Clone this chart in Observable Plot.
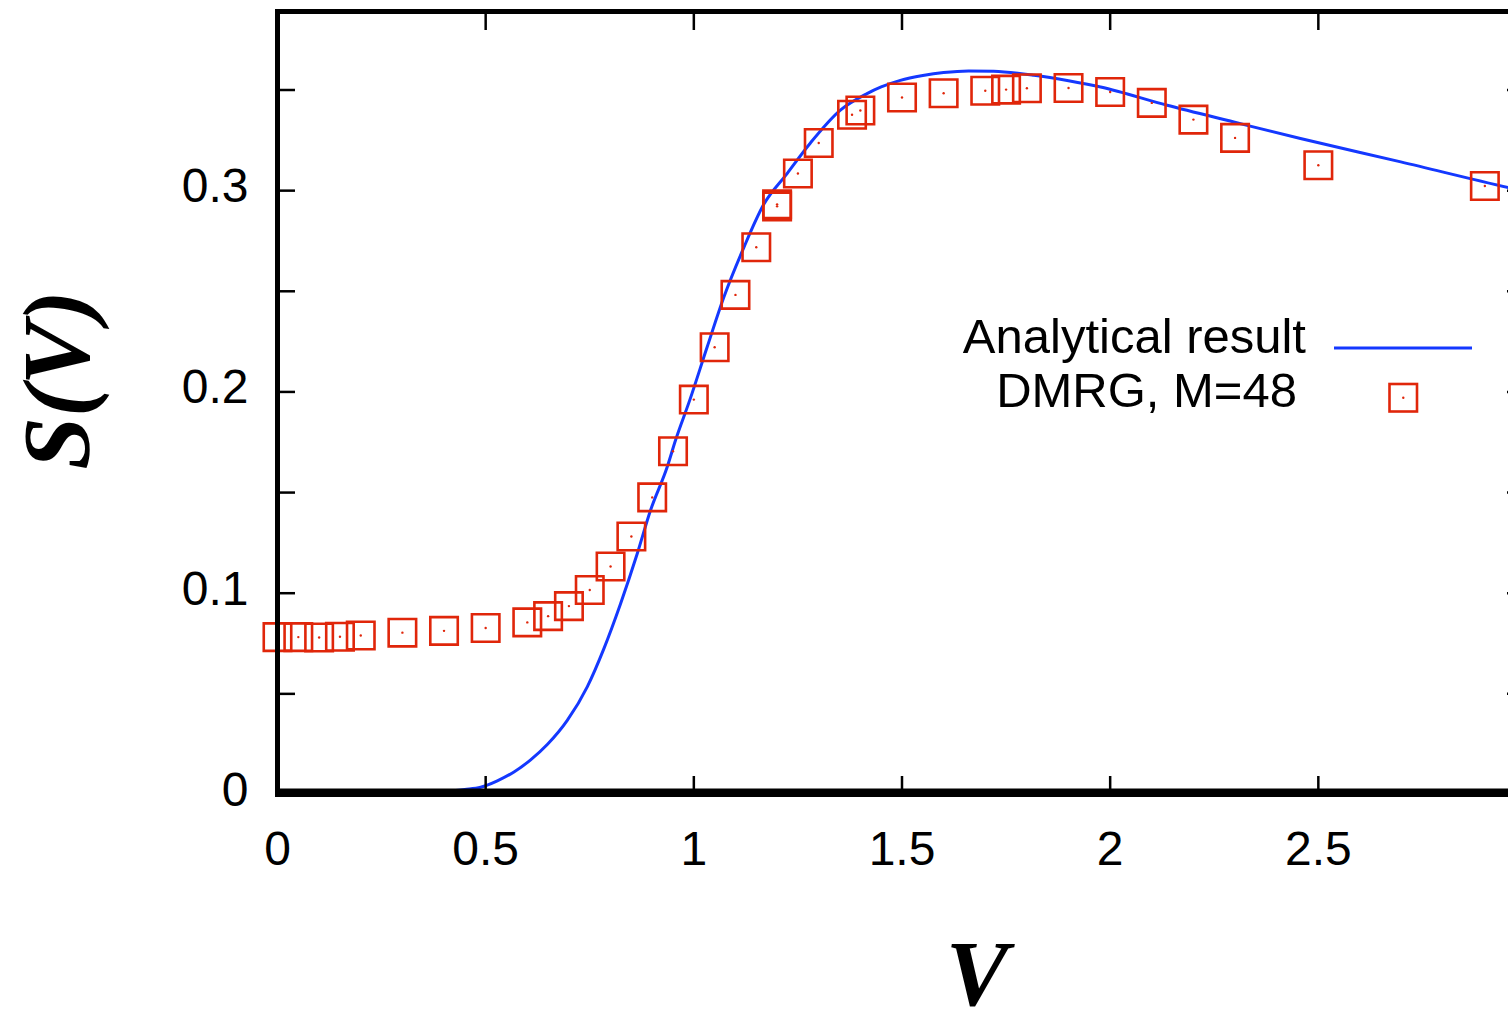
<!DOCTYPE html>
<html>
<head>
<meta charset="utf-8">
<script src="https://cdn.jsdelivr.net/npm/d3@7"></script>
<script src="https://cdn.jsdelivr.net/npm/@observablehq/plot@0.6"></script>
<style>
  html, body { margin: 0; padding: 0; background: white; overflow: hidden; }
  #wrap { position: relative; width: 1508px; height: 1025px; }
  #legend { position: absolute; left: 0; top: 0; pointer-events: none; }
</style>
</head>
<body>
<div id="wrap">
  <div id="chart"></div>
  <svg id="legend" width="1508" height="1025" xmlns="http://www.w3.org/2000/svg"></svg>
</div>
<script>
// ---- data ----
const curveX = [0, 0.1, 0.2, 0.3, 0.35, 0.4, 0.45, 0.488, 0.528, 0.568, 0.608, 0.648, 0.696, 0.744, 0.784, 0.824, 0.864, 0.896, 0.936, 0.956, 0.99, 1.032, 1.072, 1.12, 1.168, 1.224, 1.28, 1.352, 1.416, 1.45, 1.496, 1.55, 1.6, 1.66, 1.72, 1.817, 1.9, 1.977, 2.137, 2.297, 2.457, 2.698, 2.957, 3.0];
const curveY = [0, 0, 0.0001, 0.0004, 0.0008, 0.0015, 0.0025, 0.0036, 0.0068, 0.0112, 0.0172, 0.0248, 0.0368, 0.0535, 0.0725, 0.0948, 0.1196, 0.1412, 0.1627, 0.176, 0.1958, 0.2223, 0.247, 0.2717, 0.2932, 0.3085, 0.3237, 0.34, 0.3482, 0.3515, 0.3548, 0.3572, 0.3587, 0.3595, 0.3593, 0.3573, 0.3546, 0.3515, 0.3424, 0.3341, 0.3259, 0.3143, 0.3015, 0.2995];

const dmrgX = [0, 0.05, 0.1, 0.15, 0.2, 0.3, 0.4, 0.5, 0.6, 0.65, 0.7, 0.75, 0.8, 0.85, 0.9, 0.95, 1.0, 1.05, 1.1, 1.15, 1.2, 1.2, 1.25, 1.3, 1.38, 1.4, 1.5, 1.6, 1.7, 1.75, 1.8, 1.9, 2.0, 2.1, 2.2, 2.3, 2.5, 2.9];
const dmrgY = [0.0782, 0.0782, 0.078, 0.0784, 0.079, 0.0804, 0.0813, 0.0827, 0.0855, 0.0886, 0.0936, 0.1016, 0.1133, 0.1282, 0.1476, 0.1705, 0.1962, 0.2222, 0.2482, 0.2719, 0.2932, 0.2922, 0.3085, 0.3237, 0.3377, 0.3398, 0.3463, 0.3484, 0.3496, 0.3502, 0.3509, 0.351, 0.349, 0.3436, 0.3353, 0.3262, 0.3126, 0.3023];

const xTicks = [0, 0.5, 1, 1.5, 2, 2.5, 3];
const xTickLabels = [0, 0.5, 1, 1.5, 2, 2.5];
const yTicks = [0, 0.05, 0.1, 0.15, 0.2, 0.25, 0.3, 0.35];
const yTickLabels = [0, 0.1, 0.2, 0.3];

const seriesNames = ["Analytical result", "DMRG, M=48"];
const xLabel = "V";
const yLabel = "S(V)";

// ---- styles ----
const BLUE = "#1438ff";
const RED = "#e0260a";
const TICK_FONT = 48;

const curve = curveX.map((x, i) => ({x, y: curveY[i]}));
const dmrg = dmrgX.map((x, i) => ({x, y: dmrgY[i]}));

const fmt = d => String(d);
const serif = "'Liberation Serif', 'Times New Roman', serif";

const chart = Plot.plot({
  width: 1508,
  height: 1025,
  marginLeft: 277,
  marginRight: -18,
  marginTop: 11,
  marginBottom: 231,
  x: {domain: [0, 3]},
  y: {domain: [0, 0.389]},
  style: {fontFamily: "'Liberation Sans', Arial, sans-serif", background: "white", overflow: "hidden", color: "black"},
  marks: [
    Plot.line(curve, {x: "x", y: "y", stroke: BLUE, strokeWidth: 3, curve: "monotone-x"}),
    Plot.dot(dmrg, {x: "x", y: "y", symbol: "square", r: 15.5, stroke: RED, strokeWidth: 2.6, fill: "none"}),
    Plot.dot(dmrg, {x: "x", y: "y", r: 1.2, fill: RED, stroke: "none"}),
    // inward ticks on all four sides
    Plot.axisX({anchor: "bottom", ticks: xTicks, tickSize: -18, strokeWidth: 2.5, tickFormat: () => "", label: null}),
    Plot.axisX({anchor: "top", ticks: xTicks, tickSize: -18, strokeWidth: 2.5, tickFormat: () => "", label: null}),
    Plot.axisY({anchor: "left", ticks: yTicks, tickSize: -18, strokeWidth: 2.5, tickFormat: () => "", label: null}),
    Plot.axisY({anchor: "right", ticks: yTicks, tickSize: -20, strokeWidth: 2.5, tickFormat: () => "", label: null}),
    // tick labels
    Plot.axisX({anchor: "bottom", ticks: xTickLabels, tickSize: 0, tickPadding: 36, fontSize: TICK_FONT, tickFormat: fmt, label: null}),
    Plot.axisY({anchor: "left", ticks: yTickLabels, tickSize: 0, tickPadding: 29, fontSize: TICK_FONT, tickFormat: fmt, label: null, dy: -4}),
    // frame
    Plot.frame({stroke: "black", strokeWidth: 5}),
    Plot.ruleY([0], {stroke: "black", strokeWidth: 4, dy: -4}),
    // axis titles
    Plot.text([xLabel], {frameAnchor: "bottom", text: d => d, dx: 75, dy: 210, lineAnchor: "bottom", textAnchor: "middle",
      fontSize: 94, fontFamily: serif, fontWeight: "bold", fontStyle: "italic", fill: "black"}),
    Plot.text([yLabel], {frameAnchor: "left", text: d => d, rotate: -90, dx: -189, dy: -23, lineAnchor: "bottom", textAnchor: "middle",
      fontSize: 95, fontFamily: serif, fontWeight: "bold", fontStyle: "italic", fill: "black"})
  ]
});
document.getElementById("chart").appendChild(chart);

// ---- legend (inside plot, top-right) ----
const lg = d3.select("#legend");
const legendFont = "'Liberation Sans', Arial, sans-serif";
lg.append("text").attr("x", 1306).attr("y", 353).attr("text-anchor", "end")
  .attr("font-family", legendFont).attr("font-size", 49).attr("fill", "black").text(seriesNames[0]);
lg.append("line").attr("x1", 1334).attr("x2", 1472).attr("y1", 348).attr("y2", 348)
  .attr("stroke", BLUE).attr("stroke-width", 3);
lg.append("text").attr("x", 1297).attr("y", 407).attr("text-anchor", "end")
  .attr("font-family", legendFont).attr("font-size", 49).attr("fill", "black").text(seriesNames[1]);
lg.append("rect").attr("x", 1389.5).attr("y", 384).attr("width", 27.5).attr("height", 27.5)
  .attr("fill", "none").attr("stroke", RED).attr("stroke-width", 2.6);
lg.append("circle").attr("cx", 1403.3).attr("cy", 397.8).attr("r", 1.2).attr("fill", RED);
</script>
</body>
</html>
